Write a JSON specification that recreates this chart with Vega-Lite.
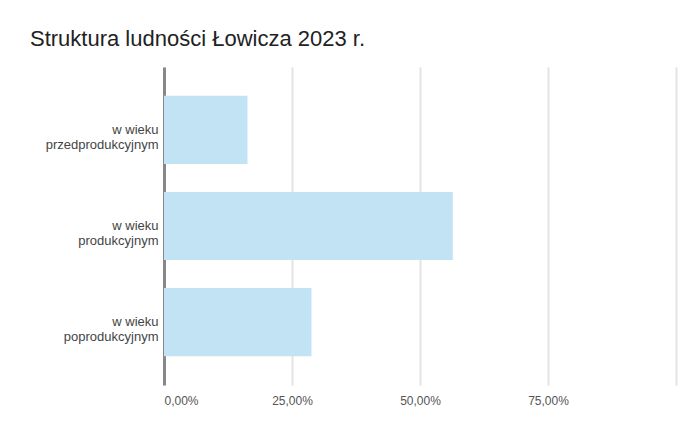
{
  "$schema": "https://vega.github.io/schema/vega-lite/v6.json",
  "autosize": "none",
  "width": 512,
  "height": 318,
  "padding": {"left": 164, "top": 67, "right": 16, "bottom": 38},
  "background": "white",
  "title": {
    "text": "Struktura ludności Łowicza 2023 r.",
    "anchor": "start",
    "frame": "group",
    "dx": -134,
    "font": "Liberation Sans",
    "fontSize": 22,
    "fontWeight": "normal",
    "color": "#222222",
    "offset": 16
  },
  "data": {
    "values": [
      {"grupa": "w wieku|przedprodukcyjnym", "udzial": 0.163},
      {"grupa": "w wieku|produkcyjnym", "udzial": 0.564},
      {"grupa": "w wieku|poprodukcyjnym", "udzial": 0.288}
    ]
  },
  "mark": {"type": "bar", "color": "#c2e3f3"},
  "encoding": {
    "y": {
      "field": "grupa",
      "type": "nominal",
      "sort": null,
      "title": null,
      "scale": {"paddingInner": 0.29, "paddingOuter": 0.3},
      "axis": {
        "labelExpr": "split(datum.label, '|')",
        "labelFont": "Liberation Sans",
        "labelFontSize": 13,
        "labelLineHeight": 15,
        "labelColor": "#444444",
        "labelPadding": 6,
        "ticks": false,
        "domain": true,
        "domainColor": "#888888",
        "domainWidth": 3,
        "grid": false,
        "labelLimit": 200
      }
    },
    "x": {
      "field": "udzial",
      "type": "quantitative",
      "title": null,
      "scale": {"domain": [0, 1]},
      "axis": {
        "values": [0, 0.25, 0.5, 0.75, 1],
        "labelExpr": "datum.value >= 1 ? '' : replace(format(datum.value, '.2%'), '.', ',')",
        "labelFont": "Liberation Sans",
        "labelFontSize": 12,
        "labelColor": "#555555",
        "labelPadding": 10,
        "domain": false,
        "ticks": false,
        "grid": true,
        "gridColor": "#e4e4e4",
        "gridWidth": 2
      }
    }
  },
  "config": {"view": {"stroke": null}}
}
